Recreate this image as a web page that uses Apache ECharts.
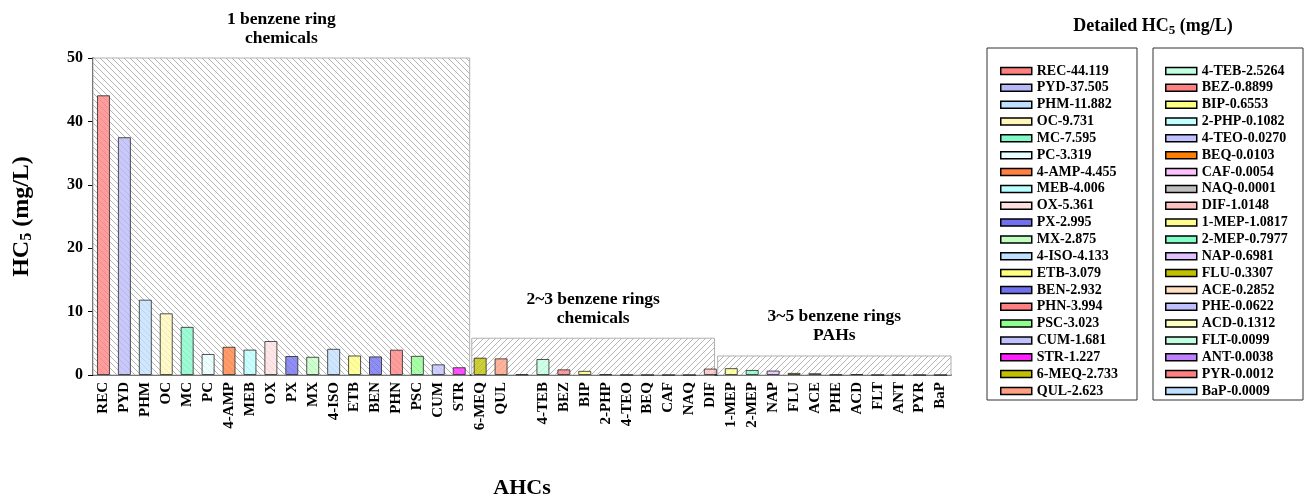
<!DOCTYPE html>
<html>
<head>
<meta charset="utf-8">
<script src="https://cdn.jsdelivr.net/npm/echarts@6/dist/echarts.min.js"></script>
<style>
  html, body { margin: 0; padding: 0; background: #fff; }
  #chart { width: 1314px; height: 497px; }
</style>
</head>
<body>
<div id="chart"></div>
<script>
// 化合物缩写（第21个是空位）
var categories = ['REC','PYD','PHM','OC','MC','PC','4-AMP','MEB','OX','PX','MX','4-ISO','ETB','BEN','PHN','PSC','CUM','STR','6-MEQ','QUL','',
  '4-TEB','BEZ','BIP','2-PHP','4-TEO','BEQ','CAF','NAQ','DIF','1-MEP','2-MEP','NAP','FLU','ACE','PHE','ACD','FLT','ANT','PYR','BaP'];
// HC5 (mg/L)
var hcValues = [44.119,37.505,11.882,9.731,7.595,3.319,4.455,4.006,5.361,2.995,2.875,4.133,3.079,2.932,3.994,3.023,1.681,1.227,2.733,2.623,0.1,
  2.5264,0.8899,0.6553,0.1082,0.0270,0.0103,0.0054,0.0001,1.0148,1.0817,0.7977,0.6981,0.3307,0.2852,0.0622,0.1312,0.0099,0.0038,0.0012,0.0009];
var barColors = ['#ff8080','#b8b8f8','#c0e0ff','#fff8b8','#80f8c8','#e8ffff','#ff8040','#b8ffff','#ffe0e0','#7070f0','#c0ffc0','#c0e0ff','#ffff80','#7070f0','#ff8080','#90ff90','#c0c0ff','#ff20ff','#c0c000','#ffa080','#222222',
  '#c0ffe0','#ff8080','#ffff80','#c0ffff','#c0c0ff','#ff8000','#ffc0ff','#c0c0c0','#ffc0c0','#ffff90','#80ffc8','#e0c0ff','#c0c000','#ffe0c0','#c0c0ff','#ffffc0','#c0ffe0','#c080ff','#ff8080','#c0e0ff'];

// 分组框
var groupNames = ['1 benzene ring\nchemicals', '2~3 benzene rings\nchemicals', '3~5 benzene rings\nPAHs'];
var groupStart = [0, 18.1, 29.85];
var groupEnd = [18, 29.7, 41];
var groupTop = [50, 5.8, 3.0];
var groupHatch = ['\\', '/', '/'];

var FONT = 'Liberation Serif';

function hatch(dir) {
  var c = document.createElement('canvas');
  c.width = 6; c.height = 6;
  var ctx = c.getContext('2d');
  ctx.fillStyle = '#fff';
  ctx.fillRect(0, 0, 6, 6);
  ctx.strokeStyle = '#b4b4b4';
  ctx.lineWidth = 1;
  ctx.beginPath();
  if (dir === '\\') {
    ctx.moveTo(0, 0); ctx.lineTo(6, 6);
    ctx.moveTo(-1, 5); ctx.lineTo(1, 7);
    ctx.moveTo(5, -1); ctx.lineTo(7, 1);
  } else {
    ctx.moveTo(0, 6); ctx.lineTo(6, 0);
    ctx.moveTo(-1, 1); ctx.lineTo(1, -1);
    ctx.moveTo(5, 7); ctx.lineTo(7, 5);
  }
  ctx.stroke();
  return c;
}

function seriesName(i) {
  if (categories[i] === '') return 'blank';
  return categories[i] + '-' + hcValues[i].toFixed(i < 20 ? 3 : 4);
}

var series = [];
categories.forEach(function (cat, i) {
  series.push({
    name: seriesName(i),
    type: 'bar',
    stack: 'hc',
    barWidth: 13,
    z: 3,
    data: categories.map(function (c, j) { return j === i ? hcValues[i] : '-'; }),
    itemStyle: { color: barColors[i], borderColor: '#222', borderWidth: 1, opacity: 0.78 }
  });
});

// 阴影框放在隐藏的数值轴上
series.push({
  type: 'line',
  xAxisIndex: 1,
  yAxisIndex: 0,
  data: [],
  silent: true,
  z: 1,
  markArea: {
    silent: true,
    data: groupNames.map(function (g, k) {
      return [{
        xAxis: groupStart[k],
        yAxis: 0,
        itemStyle: {
          color: { image: hatch(groupHatch[k]), repeat: 'repeat' },
          borderColor: '#b0b0b0',
          borderWidth: 1
        },
        label: {
          show: true,
          position: 'top',
          distance: 10,
          formatter: g,
          color: '#000',
          fontFamily: FONT,
          fontWeight: 'bold',
          fontSize: 17.5,
          lineHeight: 19,
          align: 'center'
        }
      }, {
        xAxis: groupEnd[k],
        yAxis: groupTop[k]
      }];
    })
  }
});

var legendA = [], legendB = [];
for (var i = 0; i < 20; i++) legendA.push(seriesName(i));
for (var i = 21; i < categories.length; i++) legendB.push(seriesName(i));

function legendOf(names, left) {
  return {
    data: names,
    orient: 'vertical',
    left: left,
    top: 64,
    padding: 0,
    icon: 'rect',
    itemWidth: 31,
    itemHeight: 7,
    itemGap: 2.84,
    selectedMode: false,
    itemStyle: { borderColor: '#000', borderWidth: 1.5, opacity: 1 },
    textStyle: { fontFamily: FONT, fontWeight: 'bold', fontSize: 14, lineHeight: 14, color: '#000' }
  };
}

var subStyle = { fontFamily: FONT, fontWeight: 'bold', fontSize: 13, padding: [9, 0, 0, 0] };

echarts.init(document.getElementById('chart')).setOption({
  animation: false,
  backgroundColor: '#fff',
  title: {
    text: 'Detailed HC{s|5} (mg/L)',
    left: 1148,
    top: 10,
    textAlign: 'center',
    textStyle: {
      fontFamily: FONT, fontWeight: 'bold', fontSize: 18, color: '#000',
      rich: { s: subStyle }
    }
  },
  legend: [legendOf(legendA, 1000), legendOf(legendB, 1165)],
  graphic: [
    { type: 'rect', shape: { x: 987, y: 48, width: 150, height: 352 }, style: { fill: null, stroke: '#333', lineWidth: 1 } },
    { type: 'rect', shape: { x: 1153, y: 48, width: 150, height: 352 }, style: { fill: null, stroke: '#333', lineWidth: 1 } }
  ],
  grid: { left: 93, top: 58, width: 858, height: 317, containLabel: false, outerBoundsMode: 'none' },
  xAxis: [
    {
      type: 'category',
      data: categories,
      name: 'AHCs',
      nameLocation: 'middle',
      nameGap: 102,
      nameTextStyle: { fontFamily: FONT, fontWeight: 'bold', fontSize: 22, color: '#000' },
      axisLine: { lineStyle: { color: '#000', width: 1.5 } },
      axisTick: {
        alignWithLabel: true,
        length: 5,
        interval: function (idx, val) { return val !== ''; },
        lineStyle: { color: '#000' }
      },
      axisLabel: {
        interval: 0,
        rotate: 90,
        margin: 7,
        color: '#000',
        fontFamily: FONT,
        fontWeight: 'bold',
        fontSize: 15
      }
    },
    { type: 'value', min: 0, max: 41, show: false }
  ],
  yAxis: {
    type: 'value',
    min: 0,
    max: 50,
    interval: 10,
    name: 'HC{s|5} (mg/L)',
    nameLocation: 'middle',
    nameRotate: 90,
    nameGap: 58,
    nameTextStyle: {
      fontFamily: FONT, fontWeight: 'bold', fontSize: 24, color: '#000',
      rich: { s: { fontFamily: FONT, fontWeight: 'bold', fontSize: 16, padding: [11, 0, 0, 0] } }
    },
    axisLine: { show: true, lineStyle: { color: '#000', width: 1.5 } },
    axisTick: { show: true, length: 5, lineStyle: { color: '#000' } },
    splitLine: { show: false },
    axisLabel: { color: '#000', fontFamily: FONT, fontWeight: 'bold', fontSize: 16, margin: 10 }
  },
  series: series
});
</script>
</body>
</html>
